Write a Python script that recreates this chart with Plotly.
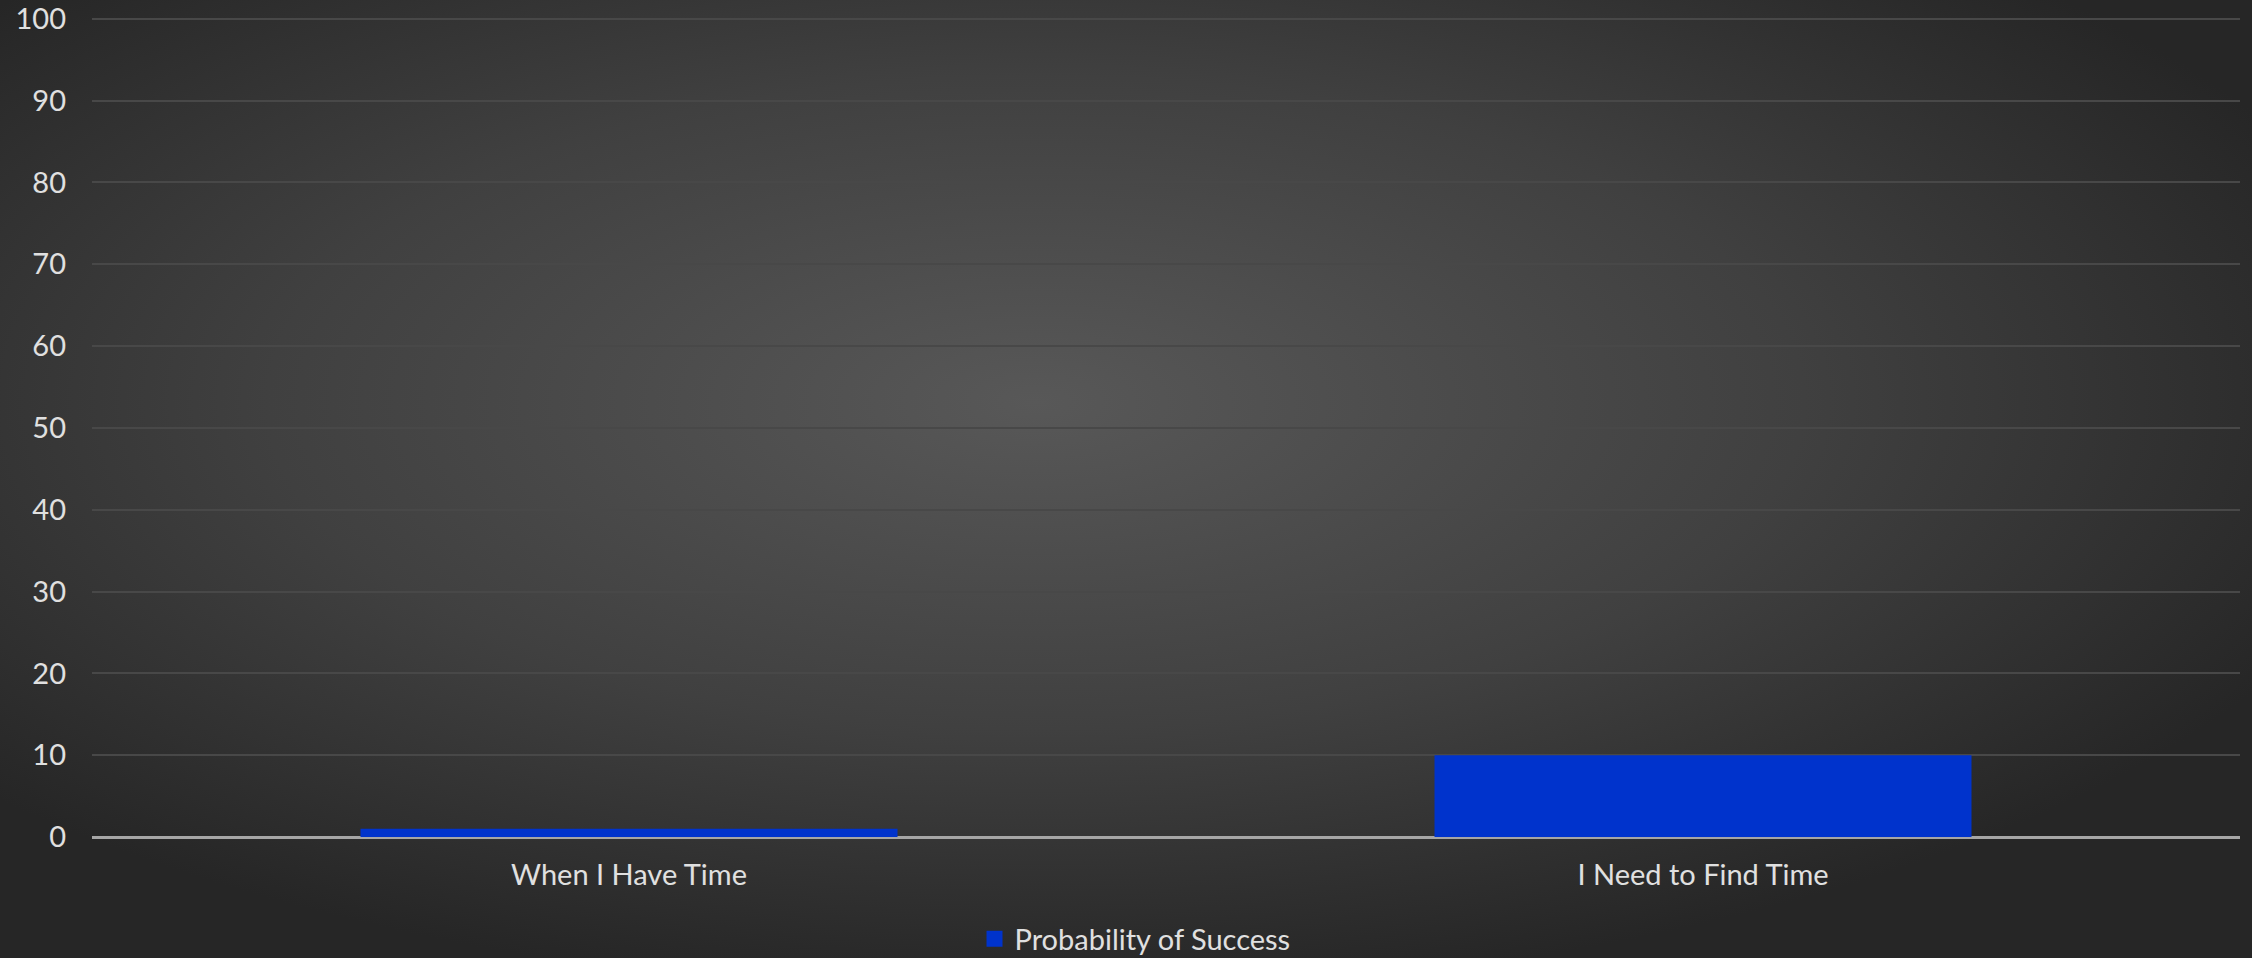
import base64
import plotly.graph_objects as go

categories = ["When I Have Time", "I Need to Find Time"]
values = [1, 10]
series_name = "Probability of Success"
y_ticks = [0, 10, 20, 30, 40, 50, 60, 70, 80, 90, 100]

W, H = 2252, 958
ml, mr, mt, mb = 92, 12, 16, 121
pw, ph = W - ml - mr, H - mt - mb

svg = (
    '<svg xmlns="http://www.w3.org/2000/svg" width="2252" height="958" viewBox="0 0 2252 958" preserveAspectRatio="none">'
    '<defs><radialGradient id="g" cx="0.46" cy="0.42" r="0.62" gradientUnits="objectBoundingBox">'
    '<stop offset="0" stop-color="#585858"/><stop offset="0.55" stop-color="#404040"/>'
    '<stop offset="1" stop-color="#262626"/></radialGradient></defs>'
    '<rect x="0" y="0" width="2252" height="958" fill="url(#g)"/></svg>'
)
src = "data:image/svg+xml;base64," + base64.b64encode(svg.encode()).decode()

font_family = "Lato, 'Open Sans', sans-serif"
text_color = "#e0e0e0"
bar_color = "#0033CC"

fig = go.Figure()
fig.add_trace(go.Bar(
    x=categories, y=values, name=series_name, showlegend=False,
    marker=dict(color=bar_color, line=dict(width=0)),
))
# legend entry with a larger square swatch
fig.add_trace(go.Scatter(
    x=[None], y=[None], mode="markers", name=series_name,
    marker=dict(symbol="square", size=16, color=bar_color),
))

fig.update_layout(
    width=W, height=H,
    margin=dict(l=ml, r=mr, t=mt, b=mb, autoexpand=False),
    paper_bgcolor="#2e2e2e",
    plot_bgcolor="rgba(0,0,0,0)",
    bargap=0.5,
    font=dict(family=font_family, size=29, color=text_color),
    showlegend=True,
    legend=dict(orientation="h", x=0.504, xanchor="center", xref="container",
                y=1 - 939 / H, yanchor="middle", yref="container",
                font=dict(size=29, color=text_color), bgcolor="rgba(0,0,0,0)",
                itemwidth=30, tracegroupgap=0),
    images=[dict(source=src, xref="paper", yref="paper",
                 x=-ml / pw, y=1 + mt / ph, sizex=W / pw, sizey=H / ph,
                 xanchor="left", yanchor="top", sizing="stretch", layer="below")],
    xaxis=dict(showgrid=False, showline=False, ticks="", ticklabelstandoff=18,
               tickfont=dict(size=29, color=text_color)),
    yaxis=dict(range=[0, 100.35], tickvals=y_ticks, showgrid=True, gridcolor="#484848", gridwidth=1.5,
               zeroline=True, zerolinecolor="#a6a6a6", zerolinewidth=2.5,
               showline=False, ticks="", ticklabelstandoff=25,
               tickfont=dict(size=29, color=text_color)),
)

fig.write_html("out.html")
